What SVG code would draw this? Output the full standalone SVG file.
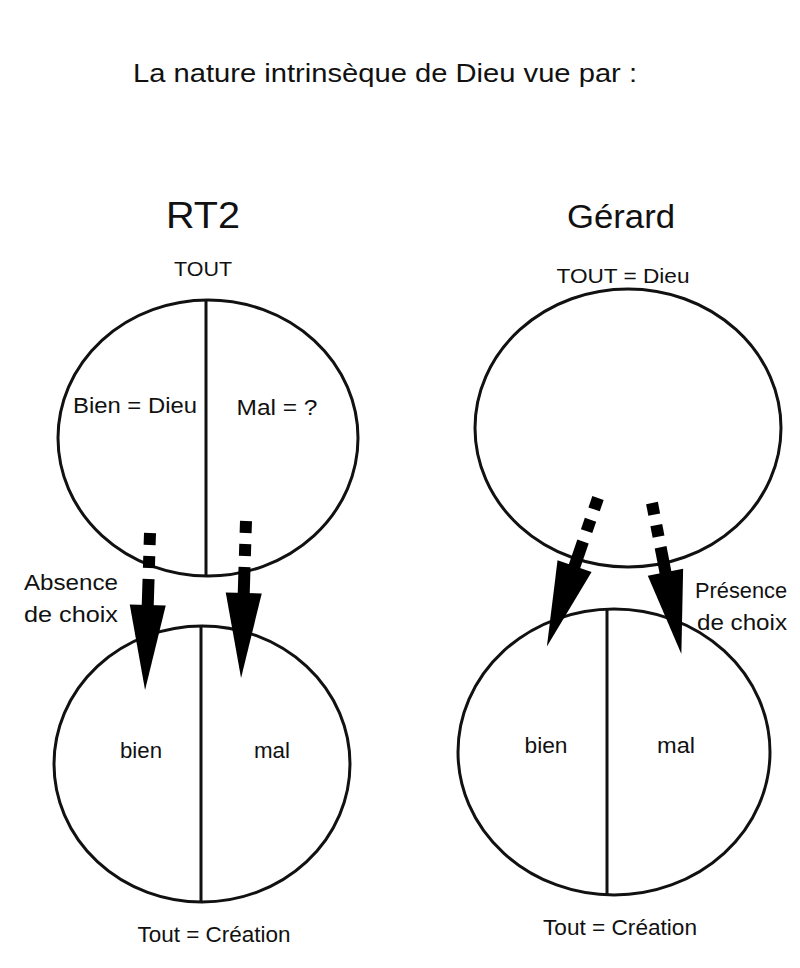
<svg xmlns="http://www.w3.org/2000/svg" width="800" height="968" viewBox="0 0 800 968">
<style>
text{font-family:"Liberation Sans","DejaVu Sans",sans-serif;fill:#111;}
.shape{fill:none;stroke:#111;stroke-width:3;}
.div{stroke:#111;stroke-width:3;}
.arr{fill:#000;}
</style>
<defs>
<g id="arrow" class="arr">
<rect x="-6" y="0" width="12" height="12"/>
<rect x="-6" y="23" width="12" height="12"/>
<rect x="-6" y="46" width="12" height="28"/>
<polygon points="-18,72 18,72 0,157"/>
</g>
</defs>
<rect width="800" height="968" fill="#fff"/>
<text x="385" y="82" font-size="26" text-anchor="middle" textLength="504" lengthAdjust="spacingAndGlyphs">La nature intrinsèque de Dieu vue par :</text>

<g id="rt2-title"><text x="203" y="228" font-size="36" text-anchor="middle" textLength="74" lengthAdjust="spacingAndGlyphs">RT2</text></g>
<g id="gerard-title"><text x="621" y="228" font-size="34" text-anchor="middle" textLength="108" lengthAdjust="spacingAndGlyphs">Gérard</text></g>

<g id="rt2-top">
<text x="203" y="276" font-size="20" text-anchor="middle" textLength="58" lengthAdjust="spacingAndGlyphs">TOUT</text>
<ellipse class="shape" cx="208" cy="438" rx="150" ry="138"/>
<line class="div" x1="206" y1="300" x2="206" y2="576"/>
<text x="135" y="413" font-size="22" text-anchor="middle" textLength="124" lengthAdjust="spacingAndGlyphs">Bien = Dieu</text>
<text x="277" y="415" font-size="22" text-anchor="middle" textLength="81" lengthAdjust="spacingAndGlyphs">Mal = ?</text>
</g>

<g id="rt2-bottom">
<ellipse class="shape" cx="202" cy="764" rx="148" ry="138"/>
<line class="div" x1="201" y1="626" x2="201" y2="902"/>
<text x="141" y="758" font-size="22" text-anchor="middle" textLength="42" lengthAdjust="spacingAndGlyphs">bien</text>
<text x="272" y="758" font-size="22" text-anchor="middle" textLength="36" lengthAdjust="spacingAndGlyphs">mal</text>
<text x="214" y="942" font-size="22" text-anchor="middle" textLength="153" lengthAdjust="spacingAndGlyphs">Tout = Création</text>
</g>

<g id="rt2-label">
<text x="71" y="590" font-size="22" text-anchor="middle" textLength="94" lengthAdjust="spacingAndGlyphs">Absence</text>
<text x="71" y="622" font-size="22" text-anchor="middle" textLength="94" lengthAdjust="spacingAndGlyphs">de choix</text>
</g>

<g id="gerard-top">
<text x="623" y="283" font-size="20" text-anchor="middle" textLength="133" lengthAdjust="spacingAndGlyphs">TOUT = Dieu</text>
<ellipse class="shape" cx="628" cy="428" rx="153" ry="139"/>
</g>

<g id="gerard-bottom">
<ellipse class="shape" cx="614" cy="752" rx="156" ry="143"/>
<line class="div" x1="607" y1="609" x2="607" y2="895"/>
<text x="546" y="753" font-size="22" text-anchor="middle" textLength="43" lengthAdjust="spacingAndGlyphs">bien</text>
<text x="676" y="753" font-size="22" text-anchor="middle" textLength="38" lengthAdjust="spacingAndGlyphs">mal</text>
<text x="620" y="935" font-size="22" text-anchor="middle" textLength="154" lengthAdjust="spacingAndGlyphs">Tout = Création</text>
</g>

<g id="gerard-label">
<text x="741" y="598" font-size="22" text-anchor="middle" textLength="92" lengthAdjust="spacingAndGlyphs">Présence</text>
<text x="742" y="630" font-size="22" text-anchor="middle" textLength="90" lengthAdjust="spacingAndGlyphs">de choix</text>
</g>

<g id="connectors">
<use href="#arrow" transform="translate(150,533) rotate(1.8)"/>
<use href="#arrow" transform="translate(246,521) rotate(1.8)"/>
<use href="#arrow" transform="translate(598,498) rotate(19)"/>
<use href="#arrow" transform="translate(652,503) rotate(-11) scale(1,0.98)"/>
</g>
</svg>
